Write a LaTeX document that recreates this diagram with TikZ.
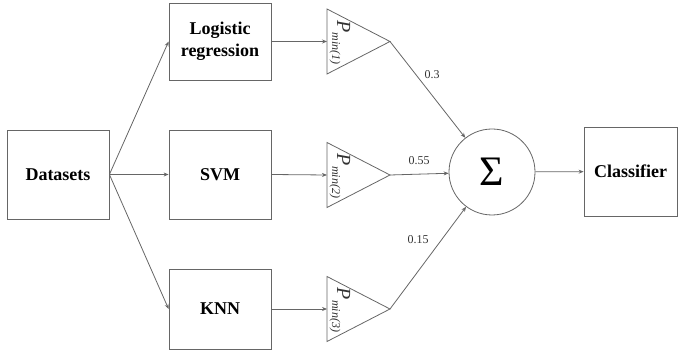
\documentclass[tikz,border=0pt]{standalone}
\usepackage{fontspec}
\setmainfont{Liberation Serif}
\usetikzlibrary{arrows.meta}
\begin{document}
\begin{tikzpicture}[x=1pt,y=-1pt,
  line/.style={draw=black!60, line width=0.8pt},
  conn/.style={line, -{Stealth[length=5pt,width=4pt]}},
  stagebox/.style={line, fill=white, rectangle, inner sep=0pt,
    font=\fontsize{18}{22}\selectfont\bfseries, align=center},
  weightlbl/.style={font=\fontsize{12}{14}\selectfont, text=black!80},
  plabel/.style={rotate=-90, inner sep=0pt, text=black!80}
]
\useasboundingbox (0,0) rectangle (679,352);

% model boxes
\node[stagebox, minimum width=102pt, minimum height=89pt] (data) at (58,174.5) {Datasets};
\node[stagebox, minimum width=102pt, minimum height=77pt] (lr) at (220,41.5) {Logistic\\regression};
\node[stagebox, minimum width=102pt, minimum height=89pt] (svm) at (220,174.5) {SVM};
\node[stagebox, minimum width=102pt, minimum height=80pt] (knn) at (220,309) {KNN};
\node[stagebox, minimum width=93pt, minimum height=89pt] (cls) at (630.5,171.5) {Classifier};

% summation node
\node[line, circle, minimum size=86pt, inner sep=0pt,
  font=\fontsize{42}{42}\selectfont] (sum) at (492,172) {Σ};

% weighting triangles
\foreach \i/\y in {1/41.5,2/175,3/309}{
  \coordinate (t\i-in) at (327,\y);
  \coordinate (t\i-out) at (390,\y);
  \draw[line] (327,\y-32.5) -- (t\i-out) -- (327,\y+32.5) -- cycle;
  \node[plabel] (p\i) at (340,\y+1)
    {\itshape{\fontsize{20}{20}\selectfont P}\raisebox{-5pt}{\fontsize{12}{12}\selectfont min(\i)}};
}

% connectors
\draw[conn] (data.east) -- (lr.west);
\draw[conn] (data.east) -- (svm.west);
\draw[conn] (data.east) -- (knn.west);
\draw[conn] (lr.east) -- (t1-in);
\draw[conn] (svm.east) -- (t2-in);
\draw[conn] (knn.east) -- (t3-in);
\draw[conn] (t1-out) -- (sum);
\draw[conn] (t2-out) -- (sum);
\draw[conn] (t3-out) -- (sum);
\draw[conn] (sum) -- (cls);

% weights
\node[weightlbl] (w1) at (432,75) {0.3};
\node[weightlbl] (w2) at (419,161) {0.55};
\node[weightlbl] (w3) at (418,240) {0.15};
\end{tikzpicture}
\end{document}
